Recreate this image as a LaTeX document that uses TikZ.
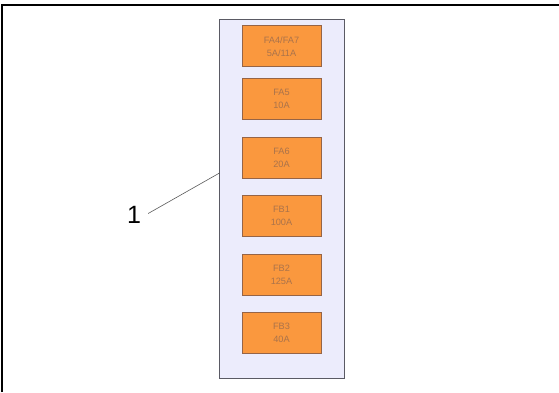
\documentclass[tikz,border=0pt]{standalone}
\usepackage{fontspec}
\setmainfont{Liberation Sans}
\definecolor{panelfill}{RGB}{236,236,252}
\definecolor{panelline}{RGB}{90,90,100}
\definecolor{fusefill}{RGB}{250,152,62}
\definecolor{fuseline}{RGB}{150,100,70}
\definecolor{fusetext}{RGB}{170,115,75}
\begin{document}
\begin{tikzpicture}[x=1pt,y=-1pt,
  panel/.style={draw=panelline,fill=panelfill,line width=0.8pt,minimum width=124.5pt,minimum height=358.5pt,inner sep=0pt},
  fuse/.style={draw=fuseline,fill=fusefill,line width=0.8pt,minimum width=79pt,minimum height=41pt,inner sep=0pt,
    text=fusetext,font=\fontsize{9.2}{13}\selectfont,align=center},
  leader/.style={draw=black!65,line width=0.6pt}]
\useasboundingbox (0,0) rectangle (559,392);
\draw[line width=2pt] (1.5,392) -- (1.5,4.5) -- (559,4.5);
\node[panel] (panel) at (281.75,198.75) {};
\node[fuse] (f1) at (281.5,46.3) {FA4/FA7\\5A/11A};
\node[fuse] (f2) at (281.5,99) {FA5\\10A};
\node[fuse] (f3) at (281.5,157.5) {FA6\\20A};
\node[fuse] (f4) at (281.5,216) {FB1\\100A};
\node[fuse] (f5) at (281.5,274.5) {FB2\\125A};
\node[fuse] (f6) at (281.5,333) {FB3\\40A};
\node[font=\fontsize{25}{28}\selectfont,inner sep=1pt] (lbl) at (134,215) {1};
\coordinate (tip) at (219.5,173);
\draw[leader] (lbl.east) ++(6,-1.5) coordinate (ls) -- (tip);
\end{tikzpicture}
\end{document}
